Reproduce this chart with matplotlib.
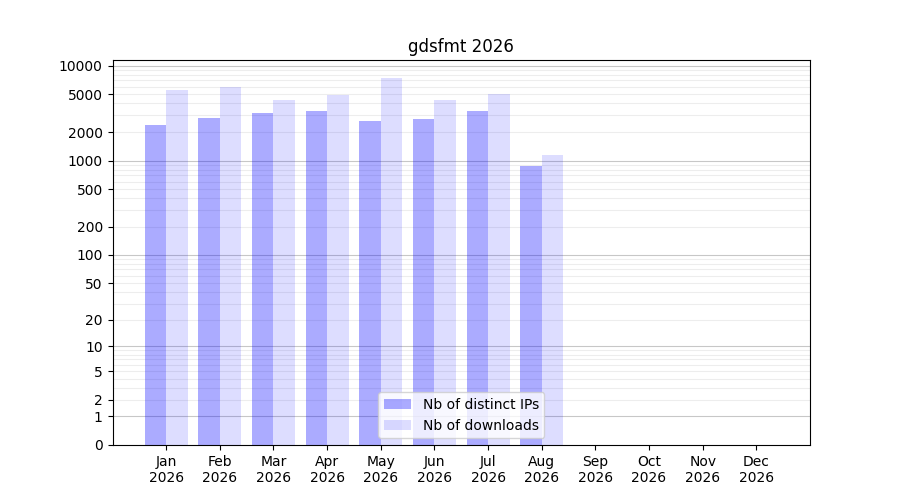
import numpy as np
import matplotlib
matplotlib.use("Agg")
import matplotlib.pyplot as plt

months = ["Jan", "Feb", "Mar", "Apr", "May", "Jun", "Jul", "Aug", "Sep", "Oct", "Nov", "Dec"]
year = "2026"
ips       = [2390, 2840, 3200, 3360, 2640, 2770, 3360, 883]
downloads = [5590, 6030, 4390, 4950, 7500, 4390, 5080, 1150]
ytick_vals = [0, 1, 2, 5, 10, 20, 50, 100, 200, 500, 1000, 2000, 5000, 10000]

fwd = lambda v: np.log10(np.asarray(v, dtype=float) + 1)
inv = lambda y: 10 ** np.asarray(y, dtype=float) - 1

fig, ax = plt.subplots(figsize=(9, 5), dpi=100)
ax.set_yscale("function", functions=(fwd, inv))

x = np.arange(len(ips))
w = 0.4
ax.bar(x - w / 2, ips, width=w, color="blue", alpha=0.33, label="Nb of distinct IPs")
ax.bar(x + w / 2, downloads, width=w, color="blue", alpha=0.135, label="Nb of downloads")

# grille façon log : décades plus marquées
for k in range(0, 5):
    ax.axhline(10 ** k, color="black", alpha=0.22, lw=0.8, zorder=0.5)
    if k < 4:
        for m in range(2, 10):
            ax.axhline(m * 10 ** k, color="black", alpha=0.07, lw=0.8, zorder=0.5)

ax.set_ylim(0, 11500)
ax.set_yticks(ytick_vals)
ax.set_yticklabels([str(v) for v in ytick_vals])
ax.minorticks_off()
ax.set_xlim(-1, 12)
ax.set_xticks(np.arange(len(months)))
ax.set_xticklabels([f"{m}\n{year}" for m in months])
ax.set_title("gdsfmt 2026")
ax.legend(loc="lower center")

plt.savefig("out.png", dpi=100)
